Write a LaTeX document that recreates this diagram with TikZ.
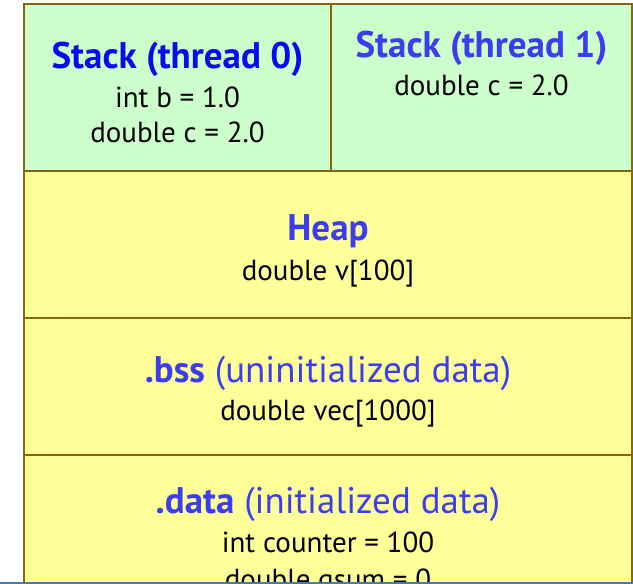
\documentclass[tikz,border=0pt]{standalone}
\usepackage{fontspec}
\setmainfont{PT Sans}
\definecolor{stackfill}{HTML}{CCFFCC}
\definecolor{segfill}{HTML}{FFFF99}
\definecolor{edge}{HTML}{886611}
\definecolor{titleA}{HTML}{0A0AF0}
\definecolor{titleB}{HTML}{3C3CF0}
\definecolor{cutline}{HTML}{4A78A8}
\tikzset{
  region/.style={draw=edge, line width=2.4pt},
  ttl/.style={anchor=base, inner sep=0pt, font=\fontsize{37}{37}\selectfont},
  body/.style={anchor=base, inner sep=0pt, text=black, font=\fontsize{29}{29}\selectfont},
}
\begin{document}
\begin{tikzpicture}[x=1pt,y=-1pt]
\useasboundingbox (0,0) rectangle (633,584);
\fill[white] (0,0) rectangle (633,584);
% regions
\path[region, fill=stackfill] (24,4) rectangle (331,171);
\path[region, fill=stackfill] (331,4) rectangle (632,171);
\path[region, fill=segfill] (24,171) rectangle (632,318);
\path[region, fill=segfill] (24,318) rectangle (632,455);
\path[region, fill=segfill] (24,455) rectangle (632,600);
% stack 0
\node[ttl, text=titleA] (t0) at (177.5,68) {\textbf{Stack (thread 0)}};
\node[body] (b0a) at (177.5,107) {int b = 1.0};
\node[body] (b0b) at (177.5,142) {double c = 2.0};
% stack 1
\node[ttl, text=titleB] (t1) at (481.5,57) {\textbf{Stack (thread 1)}};
\node[body] (b1a) at (481.5,95) {double c = 2.0};
% heap
\node[ttl, text=titleB] (th) at (328,240) {\textbf{Heap}};
\node[body] (bh) at (328,280) {double v[100]};
% bss
\node[ttl, text=titleB] (tb) at (328,382) {\textbf{.bss} (uninitialized data)};
\node[body] (bb) at (328,420) {double vec[1000]};
% data
\node[ttl, text=titleB] (td) at (328,513) {\textbf{.data} (initialized data)};
\node[body] (bd1) at (328,552) {int counter = 100};
\node[body] (bd2) at (328,589) {double gsum = 0};
% bottom cut line
\fill[cutline] (0,581.5) rectangle (633,584);
\end{tikzpicture}
\end{document}
